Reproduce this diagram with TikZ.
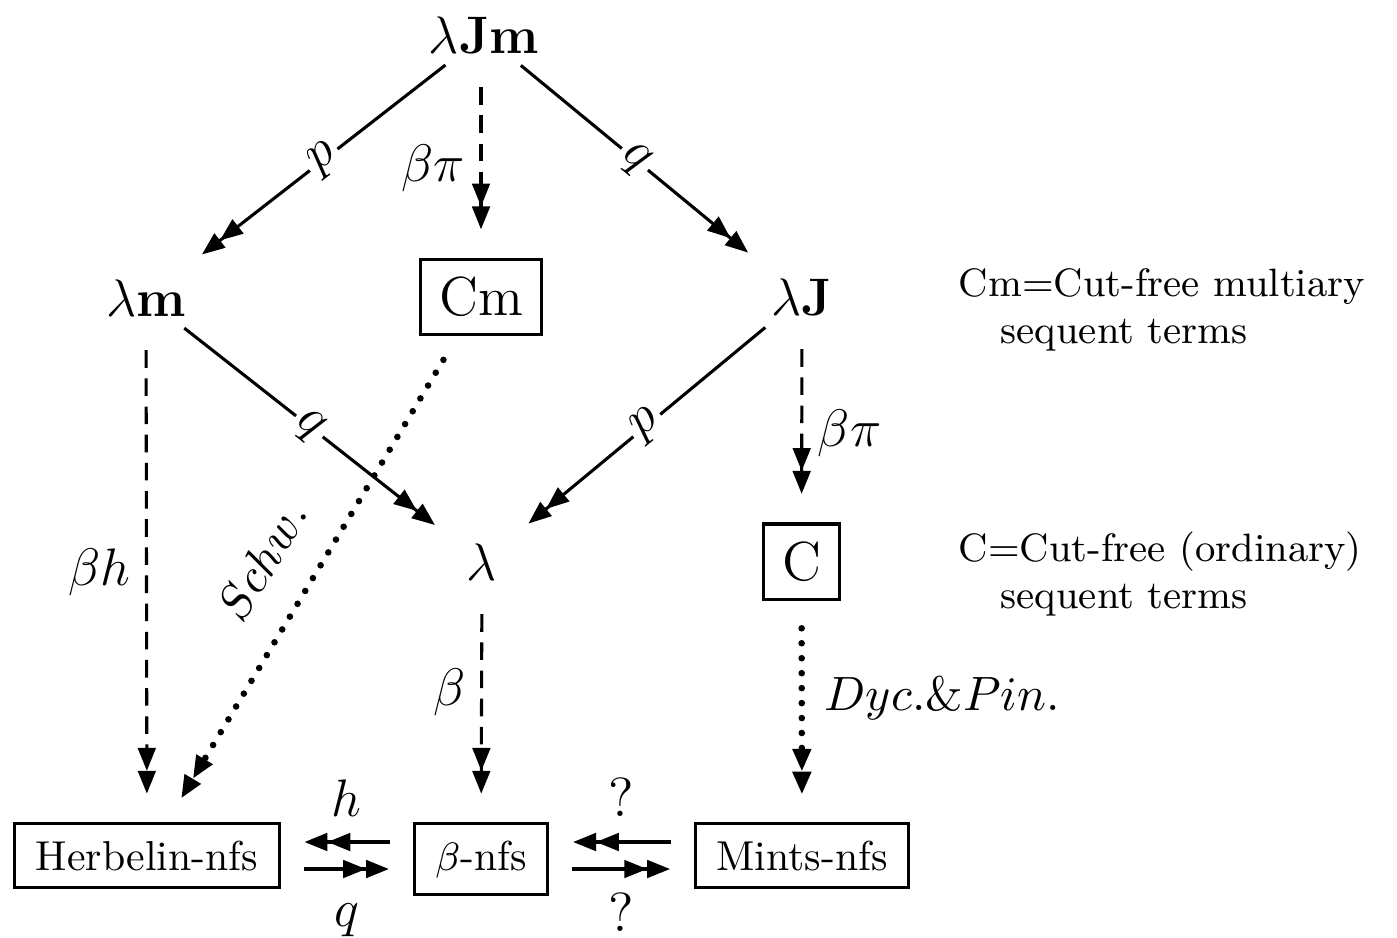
\documentclass[tikz,border=0pt]{standalone}
\usetikzlibrary{arrows.meta}

\begin{document}
\begin{tikzpicture}[x=0.2273pt, y=-0.2273pt,
    every node/.style={font=\fontsize{12.5}{15}\selectfont},
    term/.style={inner sep=0pt},
    termbox/.style={draw, line width=0.7pt, inner xsep=4.2pt, inner ysep=4pt},
    nfbox/.style={draw, line width=0.7pt, inner xsep=4.8pt, inner ysep=3.8pt, anchor=base,
        font=\fontsize{9.5}{11}\selectfont},
    legend/.style={align=left, inner sep=0pt, anchor=north west, font=\fontsize{9}{10.7}\selectfont},
    tips/.style={-{Triangle[length=5.2pt,width=4pt]Triangle[length=5.2pt,width=4pt]}},
    plainarr/.style={tips, line width=0.7pt, shorten <=4pt, shorten >=9pt},
    dasharr/.style={tips, line width=0.7pt, dash pattern=on 4pt off 2.4pt, shorten <=7.5pt, shorten >=6.5pt},
    dotarr/.style={tips, line width=1.5pt, line cap=round, dash pattern=on 0pt off 3.4pt,
        shorten <=6.3pt, shorten >=6.3pt},
    sidearr/.style={tips, line width=0.7pt, shorten <=5.2pt, shorten >=5.4pt},
    lbl/.style={fill=white, inner sep=1pt, sloped, pos=0.47},
    toplbl/.style={above, inner sep=5.5pt},
    botlbl/.style={below, inner sep=7.5pt},
    small/.style={font=\fontsize{10.5}{12}\selectfont}]
    \useasboundingbox (0,0) rectangle (1397,937);

    % calculi
    \node[term] (ljm) at (484,35) {$\lambda\mathbf{Jm}$};
    \node[term] (lm) at (146,298) {$\lambda\mathbf{m}$};
    \node[termbox] (cm) at (481,297) {Cm};
    \node[term] (lj) at (802,297) {$\lambda\mathbf{J}$};
    \node[term] (lam) at (482,562) {$\lambda$};
    \node[termbox] (c) at (801.5,561.5) {C};

    % normal forms
    \node[nfbox] (herb) at (147,870) {Herbelin-nfs};
    \node[nfbox] (bnf) at (481,870) {$\beta$-nfs};
    \node[nfbox] (mints) at (802,870) {Mints-nfs};

    % legend
    \node[legend] (cmkey) at (958,268) {Cm=Cut-free multiary\\\hspace*{9.5pt}sequent terms};
    \node[legend] (ckey) at (958,531) {C=Cut-free (ordinary)\\\hspace*{9.5pt}sequent terms};

    \path[plainarr]
    (ljm) edge node[lbl] {$p$} (lm)
          edge node[lbl] {$q$} (lj)
    (lm) edge node[lbl] {$q$} (lam)
    (lj) edge node[lbl] {$p$} (lam);

    \path[dasharr]
    (cm |- ljm.south) edge node[left, pos=0.56] {$\beta\pi$} (cm)
    (lm) edge node[left, pos=0.505] {$\beta h$} (herb)
    (lam) edge node[left, pos=0.46] {$\beta$} (bnf)
    (lj) edge node[right, pos=0.57] {$\beta\pi$} (c);

    \path[dotarr]
    (cm) edge node[small, sloped, above, pos=0.517, inner sep=7.5pt] {$Schw.$} (herb)
    (c) edge node[small, right, pos=0.44, inner sep=4.5pt] {$Dyc.\&Pin.$} (mints);

    \path[sidearr]
    ([yshift=3.07pt]herb.east -| bnf.west) edge node[toplbl] {$h$} ([yshift=3.07pt]herb.east)
    ([yshift=-3.07pt]herb.east) edge node[botlbl] {$q$} ([yshift=-3.07pt]herb.east -| bnf.west)
    ([yshift=3.07pt]mints.west) edge node[toplbl] {?} ([yshift=3.07pt]mints.west -| bnf.east)
    ([yshift=-3.07pt]mints.west -| bnf.east) edge node[botlbl, inner sep=5pt] {?} ([yshift=-3.07pt]mints.west);
\end{tikzpicture}
\end{document}
